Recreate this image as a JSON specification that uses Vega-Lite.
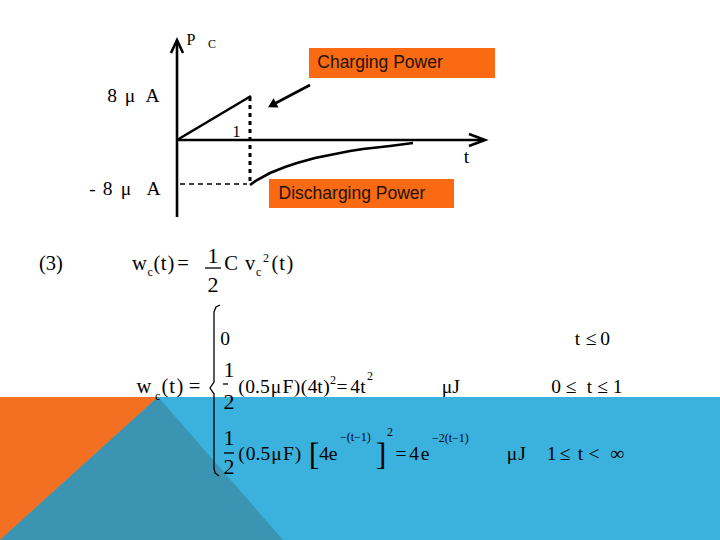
{
  "$schema": "https://vega.github.io/schema/vega-lite/v6.json",
  "width": 720,
  "height": 540,
  "autosize": {"type": "fit", "contains": "padding"},
  "padding": 0,
  "background": "white",
  "config": {"view": {"stroke": null}},
  "datasets": {
    "blue": [{"x": 0, "x2": 720, "y": 397, "y2": 540}],
    "orange": [{"x": 0, "y": 397, "y2": 540}, {"x": 158, "y": 397, "y2": 397}],
    "teal": [{"x": 0, "y": 540, "y2": 540}, {"x": 158, "y": 397, "y2": 540}, {"x": 283, "y": 540, "y2": 540}],
    "boxes": [
      {"x": 309, "x2": 495, "y": 48, "y2": 78, "cx": 380, "cy": 63, "label": "Charging Power"},
      {"x": 269, "x2": 454, "y": 179, "y2": 208, "cx": 352, "cy": 194, "label": "Discharging Power"}
    ],
    "solid": [
      {"id": "yaxis", "o": 0, "x": 177, "y": 41}, {"id": "yaxis", "o": 1, "x": 177, "y": 217},
      {"id": "yarrow", "o": 0, "x": 171, "y": 53}, {"id": "yarrow", "o": 1, "x": 177, "y": 40}, {"id": "yarrow", "o": 2, "x": 183, "y": 53},
      {"id": "xaxis", "o": 0, "x": 177, "y": 140}, {"id": "xaxis", "o": 1, "x": 484, "y": 140},
      {"id": "xarrow", "o": 0, "x": 469, "y": 134}, {"id": "xarrow", "o": 1, "x": 485, "y": 140}, {"id": "xarrow", "o": 2, "x": 469, "y": 146},
      {"id": "charge", "o": 0, "x": 177, "y": 140}, {"id": "charge", "o": 1, "x": 251, "y": 96},
      {"id": "shaft", "o": 0, "x": 310, "y": 85}, {"id": "shaft", "o": 1, "x": 274, "y": 104},
      {"id": "dis", "o": 0, "x": 250, "y": 185}, {"id": "dis", "o": 1, "x": 257, "y": 180},
      {"id": "dis", "o": 2, "x": 270, "y": 173}, {"id": "dis", "o": 3, "x": 285, "y": 167},
      {"id": "dis", "o": 4, "x": 297, "y": 163}, {"id": "dis", "o": 5, "x": 315, "y": 158},
      {"id": "dis", "o": 6, "x": 330, "y": 155}, {"id": "dis", "o": 7, "x": 350, "y": 151},
      {"id": "dis", "o": 8, "x": 363, "y": 149}, {"id": "dis", "o": 9, "x": 390, "y": 146},
      {"id": "dis", "o": 10, "x": 413, "y": 143}
    ],
    "dotted": [{"o": 0, "x": 250, "y": 97}, {"o": 1, "x": 250, "y": 184}],
    "dashed": [{"o": 0, "x": 180, "y": 184}, {"o": 1, "x": 247, "y": 184}],
    "brace": [
      {"o": 0, "x": 220, "y": 305}, {"o": 1, "x": 216, "y": 307}, {"o": 2, "x": 214, "y": 312},
      {"o": 3, "x": 214, "y": 382}, {"o": 4, "x": 210, "y": 388}, {"o": 5, "x": 214, "y": 394},
      {"o": 6, "x": 214, "y": 468}, {"o": 7, "x": 215, "y": 473}, {"o": 8, "x": 219, "y": 476}
    ],
    "bars": [
      {"id": "a", "x": 205, "y": 268}, {"id": "a", "x": 221, "y": 268},
      {"id": "b", "x": 223, "y": 384}, {"id": "b", "x": 228, "y": 384},
      {"id": "c", "x": 224, "y": 453}, {"id": "c", "x": 234, "y": 453}
    ],
    "head": [{"x": 272, "y": 105}],
    "lhs": [
      {"x": 51, "y": 270, "text": "(3)"},
      {"x": 139.5, "y": 270, "text": "w"},
      {"x": 157, "y": 270, "text": "("},
      {"x": 163.5, "y": 270, "text": "t"},
      {"x": 171, "y": 270, "text": ")"},
      {"x": 183, "y": 270, "text": "="},
      {"x": 231, "y": 270, "text": "C"},
      {"x": 250, "y": 270, "text": "v"},
      {"x": 275, "y": 270, "text": "("},
      {"x": 282, "y": 270, "text": "t"},
      {"x": 290, "y": 270, "text": ")"},
      {"x": 144, "y": 393, "text": "w"},
      {"x": 165, "y": 393, "text": "("},
      {"x": 172, "y": 393, "text": "t"},
      {"x": 180, "y": 393, "text": ")"},
      {"x": 194.5, "y": 393, "text": "="}
    ],
    "glyph": [
      {"x": 225, "y": 345, "text": "0"},
      {"x": 577.5, "y": 345, "text": "t"},
      {"x": 591, "y": 345, "text": "≤"},
      {"x": 605, "y": 345, "text": "0"},

      {"x": 241.5, "y": 393, "text": "("},
      {"x": 257.5, "y": 393, "text": "0.5"},
      {"x": 276, "y": 393, "text": "μ"},
      {"x": 288, "y": 393, "text": "F"},
      {"x": 297, "y": 393, "text": ")"},
      {"x": 304, "y": 393, "text": "("},
      {"x": 312.5, "y": 393, "text": "4"},
      {"x": 320, "y": 393, "text": "t"},
      {"x": 326.5, "y": 393, "text": ")"},
      {"x": 342, "y": 393, "text": "="},
      {"x": 355, "y": 393, "text": "4"},
      {"x": 363, "y": 393, "text": "t"},
      {"x": 447, "y": 393, "text": "μ"},
      {"x": 456, "y": 393, "text": "J"},
      {"x": 556, "y": 393, "text": "0"},
      {"x": 571, "y": 393, "text": "≤"},
      {"x": 589.5, "y": 393, "text": "t"},
      {"x": 602.5, "y": 393, "text": "≤"},
      {"x": 617.5, "y": 393, "text": "1"},

      {"x": 241.5, "y": 460, "text": "("},
      {"x": 258, "y": 460, "text": "0.5"},
      {"x": 276.5, "y": 460, "text": "μ"},
      {"x": 288.5, "y": 460, "text": "F"},
      {"x": 298, "y": 460, "text": ")"},
      {"x": 324, "y": 460, "text": "4"},
      {"x": 333, "y": 460, "text": "e"},
      {"x": 401, "y": 460, "text": "="},
      {"x": 414, "y": 460, "text": "4"},
      {"x": 425, "y": 460, "text": "e"},
      {"x": 512, "y": 460, "text": "μ"},
      {"x": 522, "y": 460, "text": "J"},
      {"x": 551.5, "y": 460, "text": "1"},
      {"x": 565, "y": 460, "text": "≤"},
      {"x": 580.5, "y": 460, "text": "t"},
      {"x": 594, "y": 460, "text": "<"},
      {"x": 617, "y": 460, "text": "∞"},

      {"x": 112, "y": 102, "text": "8"},
      {"x": 130, "y": 102, "text": "μ"},
      {"x": 152.5, "y": 102, "text": "A"},
      {"x": 92.5, "y": 195, "text": "-"},
      {"x": 107.5, "y": 195, "text": "8"},
      {"x": 126, "y": 195, "text": "μ"},
      {"x": 153.5, "y": 195, "text": "A"},
      {"x": 466.5, "y": 163, "text": "t"}
    ],
    "small": [
      {"x": 147.5, "y": 276, "text": "c"},
      {"x": 256, "y": 276, "text": "c"},
      {"x": 263, "y": 262, "text": "2"},
      {"x": 155, "y": 400, "text": "c"},
      {"x": 330, "y": 384, "text": "2"},
      {"x": 367, "y": 380, "text": "2"},
      {"x": 340, "y": 441, "text": "−(t−1)"},
      {"x": 387, "y": 436, "text": "2"},
      {"x": 432, "y": 442, "text": "−2(t−1)"},
      {"x": 208, "y": 48, "text": "C"}
    ],
    "frac": [
      {"x": 213, "y": 263, "text": "1"}, {"x": 213, "y": 292, "text": "2"},
      {"x": 229, "y": 377, "text": "1"}, {"x": 229, "y": 409, "text": "2"},
      {"x": 229, "y": 445, "text": "1"}, {"x": 229, "y": 474, "text": "2"}
    ],
    "brk": [
      {"x": 314, "y": 465, "text": "["},
      {"x": 381, "y": 465, "text": "]"}
    ],
    "diag16": [
      {"x": 191, "y": 45, "text": "P"},
      {"x": 236.5, "y": 137, "text": "1"}
    ]
  },
  "encoding": {
    "x": {"field": "x", "type": "quantitative", "scale": {"domain": [0, 720], "nice": false, "zero": false}, "axis": null},
    "y": {"field": "y", "type": "quantitative", "scale": {"domain": [0, 540], "nice": false, "zero": false, "reverse": true}, "axis": null}
  },
  "layer": [
    {"data": {"name": "blue"}, "mark": {"type": "rect", "color": "#3BB1DD"},
     "encoding": {"x2": {"field": "x2"}, "y2": {"field": "y2"}}},
    {"data": {"name": "orange"}, "mark": {"type": "area", "color": "#F36F21", "opacity": 1},
     "encoding": {"y2": {"field": "y2"}}},
    {"data": {"name": "teal"}, "mark": {"type": "area", "color": "#3A94B2", "opacity": 1},
     "encoding": {"y2": {"field": "y2"}}},
    {"data": {"name": "boxes"}, "mark": {"type": "rect", "color": "#F96A12"},
     "encoding": {"x2": {"field": "x2"}, "y2": {"field": "y2"}}},
    {"data": {"name": "boxes"}, "mark": {"type": "text", "font": "Liberation Sans", "fontSize": 17.5, "align": "center", "baseline": "middle", "color": "#231208"},
     "encoding": {"x": {"field": "cx", "type": "quantitative"}, "y": {"field": "cy", "type": "quantitative"}, "text": {"field": "label"}}},
    {"data": {"name": "solid"}, "mark": {"type": "line", "color": "black", "strokeWidth": 2.6, "strokeCap": "butt"},
     "encoding": {"detail": {"field": "id"}, "order": {"field": "o", "type": "quantitative"}}},
    {"data": {"name": "dotted"}, "mark": {"type": "line", "color": "black", "strokeWidth": 3, "strokeDash": [4, 4]},
     "encoding": {"order": {"field": "o", "type": "quantitative"}}},
    {"data": {"name": "dashed"}, "mark": {"type": "line", "color": "black", "strokeWidth": 1.5, "strokeDash": [5, 4]},
     "encoding": {"order": {"field": "o", "type": "quantitative"}}},
    {"data": {"name": "brace"}, "mark": {"type": "line", "color": "black", "strokeWidth": 1.3},
     "encoding": {"order": {"field": "o", "type": "quantitative"}}},
    {"data": {"name": "bars"}, "mark": {"type": "line", "color": "black", "strokeWidth": 1.3},
     "encoding": {"detail": {"field": "id"}}},
    {"data": {"name": "head"}, "mark": {"type": "point", "shape": "triangle-left", "filled": true, "color": "black", "size": 110, "angle": 332, "opacity": 1}},
    {"data": {"name": "lhs"}, "mark": {"type": "text", "font": "Liberation Serif", "fontSize": 20.5, "align": "center", "baseline": "alphabetic", "color": "black"},
     "encoding": {"text": {"field": "text"}}},
    {"data": {"name": "glyph"}, "mark": {"type": "text", "font": "Liberation Serif", "fontSize": 19.5, "align": "center", "baseline": "alphabetic", "color": "black"},
     "encoding": {"text": {"field": "text"}}},
    {"data": {"name": "small"}, "mark": {"type": "text", "font": "Liberation Serif", "fontSize": 12, "align": "left", "baseline": "alphabetic", "color": "black"},
     "encoding": {"text": {"field": "text"}}},
    {"data": {"name": "frac"}, "mark": {"type": "text", "font": "Liberation Serif", "fontSize": 22, "align": "center", "baseline": "alphabetic", "color": "black"},
     "encoding": {"text": {"field": "text"}}},
    {"data": {"name": "brk"}, "mark": {"type": "text", "font": "Liberation Serif", "fontSize": 32, "align": "center", "baseline": "alphabetic", "color": "black"},
     "encoding": {"text": {"field": "text"}}},
    {"data": {"name": "diag16"}, "mark": {"type": "text", "font": "Liberation Serif", "fontSize": 16, "align": "center", "baseline": "alphabetic", "color": "black"},
     "encoding": {"text": {"field": "text"}}}
  ]
}
